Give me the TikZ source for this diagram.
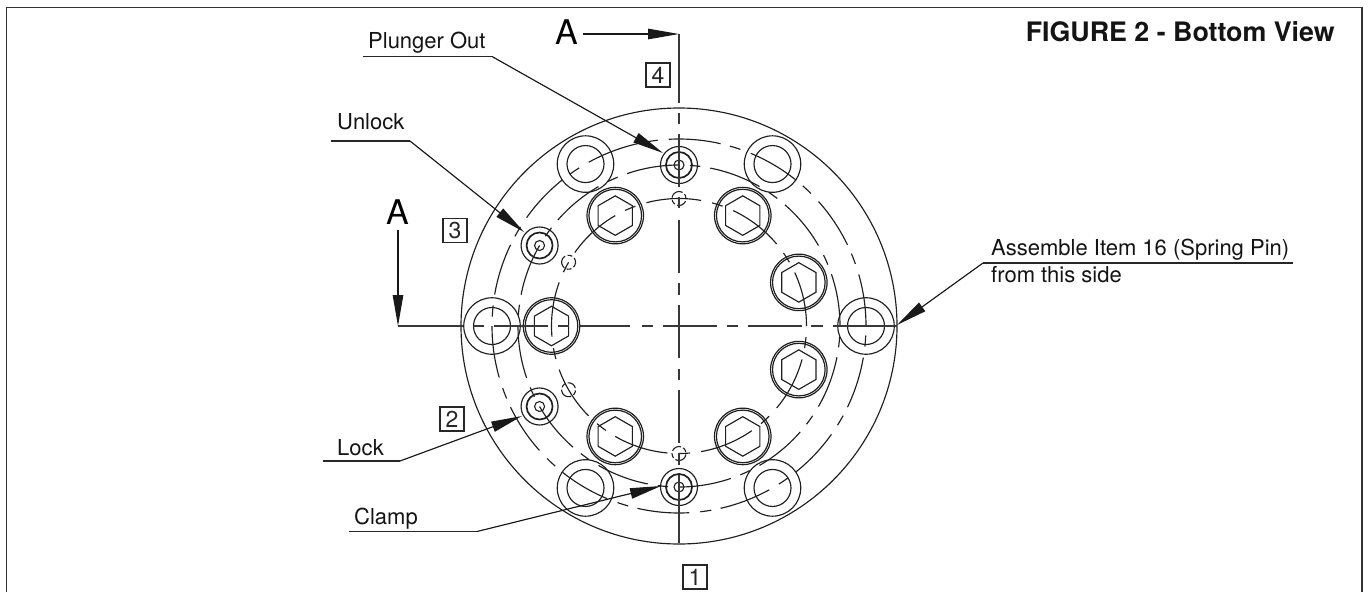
\documentclass[tikz,border=0pt]{standalone}
\usepackage{fontspec}
\setmainfont{TeX Gyre Heros}
\usetikzlibrary{arrows.meta,shapes.geometric,calc}
\tikzset{
  ln/.style={line width=1.15pt,draw=black!88,line cap=butt},
  ctr/.style={line width=1.3pt,draw=black!78},
  frm/.style={line width=1.5pt,draw=black!80},
  lead/.style={line width=1.15pt,draw=black!90,-{Triangle[length=31pt,width=10.5pt]},fill=black},
  under/.style={line width=1.2pt,draw=black!85},
  lbl/.style={anchor=base west,inner sep=0pt,font=\fontsize{22}{26}\selectfont,text=black!92},
  bigA/.style={inner sep=0pt,font=\fontsize{34}{36}\selectfont,text=black},
  numbox/.style={draw=black!85,line width=1.1pt,minimum size=24pt,inner sep=0pt,font=\fontsize{23}{24}\selectfont,text=black!85},
  title/.style={anchor=base east,inner sep=0pt,font=\bfseries\fontsize{26.8}{30}\selectfont,text=black!92},
  boltO/.style={circle,draw=black!88,line width=1.15pt,minimum size=56.5pt,inner sep=0pt},
  boltI/.style={circle,draw=black!88,line width=1.15pt,minimum size=37pt,inner sep=0pt},
  capO/.style={circle,draw=black!88,line width=1.2pt,minimum size=56.5pt,inner sep=0pt},
  capI/.style={circle,draw=black!88,line width=1.2pt,minimum size=52.6pt,inner sep=0pt},
  hexa/.style={regular polygon,regular polygon sides=6,shape border rotate=30,draw=black!88,line width=1.15pt,minimum size=39.5pt,inner sep=0pt},
  portO/.style={circle,draw=black!88,line width=1.15pt,minimum size=37pt,inner sep=0pt},
  portM/.style={circle,draw=black!88,line width=1.7pt,minimum size=26pt,inner sep=0pt},
  portI/.style={circle,draw=black!88,line width=1.1pt,minimum size=10pt,inner sep=0pt},
  hole/.style={circle,draw=black!88,line width=1.1pt,minimum size=14pt,inner sep=0pt,dash pattern=on 10pt off 2.5pt on 5pt off 2.5pt}
}
\begin{document}
\begin{tikzpicture}[x=1pt,y=1pt]
\useasboundingbox (0,0) rectangle (1370,-592);
\coordinate (c) at (679,-326);
% frame
\coordinate (f1) at (6.3,-592);
\coordinate (f2) at (6.3,-7.5);
\coordinate (f3) at (1362,-7.5);
\coordinate (f4) at (1362,-592);
\draw[frm] (f1) -- (f2) -- (f3) -- (f4);
% outer circle
\node[circle,draw=black!88,line width=1.15pt,minimum size=436pt,inner sep=0pt] (outer) at (c) {};
% bolt circle r=187
\foreach \k in {0,...,13}{
  \pgfmathsetmacro\a{\k*25.7143}
  \pgfmathsetmacro\b{\a+19.4}
  \draw[ln] (c) ++(\a:187) arc[start angle=\a,delta angle=16,radius=187];
  \draw[ln] (c) ++(\b:187) arc[start angle=\b,delta angle=3.4,radius=187];
}
% port circle r=161
\foreach \k in {0,...,11}{
  \pgfmathsetmacro\a{\k*30}
  \pgfmathsetmacro\b{\a+22.4}
  \draw[ln] (c) ++(\a:161) arc[start angle=\a,delta angle=18.8,radius=161];
  \draw[ln] (c) ++(\b:161) arc[start angle=\b,delta angle=3.7,radius=161];
}
% screw circle r=127.5
\foreach \k in {0,...,8}{
  \pgfmathsetmacro\a{\k*40}
  \pgfmathsetmacro\b{\a+30}
  \draw[ln] (c) ++(\a:127.5) arc[start angle=\a,delta angle=24.8,radius=127.5];
  \draw[ln] (c) ++(\b:127.5) arc[start angle=\b,delta angle=5,radius=127.5];
}
% bolts
\foreach \n/\ang in {b1/0,b2/60,b3/120,b4/180,b5/240,b6/300}{
  \node[boltO] (\n o) at ($(c)+(\ang:187)$) {};
  \node[boltI] (\n i) at ($(c)+(\ang:187)$) {};
}
% socket screws
\foreach \n/\ang in {s1/20,s2/60,s3/120,s4/180,s5/240,s6/300,s7/340}{
  \node[capO] (\n o) at ($(c)+(\ang:127.5)$) {};
  \node[capI] (\n i) at ($(c)+(\ang:127.5)$) {};
  \node[hexa] (\n h) at ($(c)+(\ang:127.5)$) {};
}
% ports
\foreach \n/\ang in {p1/270,p2/210,p3/150,p4/90}{
  \node[portO] (\n o) at ($(c)+(\ang:161)$) {};
  \node[portM] (\n m) at ($(c)+(\ang:161)$) {};
  \node[portI] (\n i) at ($(c)+(\ang:161)$) {};
}
% small holes
\foreach \n/\ang in {h1/90,h2/150,h3/210,h4/270}{
  \node[hole,rotate=\ang] (\n) at ($(c)+(\ang:127.5)$) {};
}
% section line vertical
\coordinate (vt) at (679,-34);
\foreach \ya/\yb in {34/103,113/124,134/187,197/208,220/273,283/295,305/358,369/380,390/443,453/465,475/543}{
  \draw[ctr] (679,-\ya) -- (679,-\yb);
}
% section line horizontal
\coordinate (ht) at (398,-326);
\foreach \xa/\xb in {398/463,473/484,494/548,558/569,579/630,642/653,663/717,727/738,748/802,811/823,833/897}{
  \draw[ctr] (\xa,-326) -- (\xb,-326);
}
% section arrows
\node[bigA] (Atop) at (567,-32) {A};
\node[bigA] (Aleft) at (398,-212.5) {A};
\coordinate (at1) at (583,-34);
\coordinate (al1) at (398,-230);
\draw[lead] (at1) -- (vt);
\draw[lead] (al1) -- (ht);
% number boxes
\node[numbox] (n4) at (658,-75) {4};
\node[numbox] (n3) at (455,-230.5) {3};
\node[numbox] (n2) at (452,-419) {2};
\node[numbox] (n1) at (695,-577) {1};
% labels
\node[lbl] (lplunger) at (368,-48) {Plunger Out};
\node[lbl] (lunlock) at (337,-129) {Unlock};
\node[lbl] (llock) at (337,-455) {Lock};
\node[lbl] (lclamp) at (354,-524) {Clamp};
\node[lbl] (lasm) at (991,-255) {Assemble Item 16 (Spring Pin)};
\node[lbl] (lfrom) at (991,-282) {from this side};
\node[title] (ttl) at (1335,-41) {FIGURE 2 - Bottom View};
% leaders
\coordinate (u1a) at (363,-56.5); \coordinate (u1b) at (492,-56.5); \coordinate (t1) at (663,-153);
\coordinate (u2a) at (331,-141); \coordinate (u2b) at (410,-141); \coordinate (t2) at (524,-232);
\coordinate (u3a) at (323,-461); \coordinate (u3b) at (400,-461); \coordinate (t3) at (522,-416);
\coordinate (u4a) at (349,-531.5); \coordinate (u4b) at (477,-531.5); \coordinate (t4) at (661,-486);
\coordinate (u5a) at (1293,-263); \coordinate (u5b) at (983,-263); \coordinate (t5) at (897,-325);
\foreach \i in {1,...,5}{
  \draw[under] (u\i a) -- (u\i b);
  \draw[lead] (u\i b) -- (t\i);
}
\end{tikzpicture}
\end{document}
